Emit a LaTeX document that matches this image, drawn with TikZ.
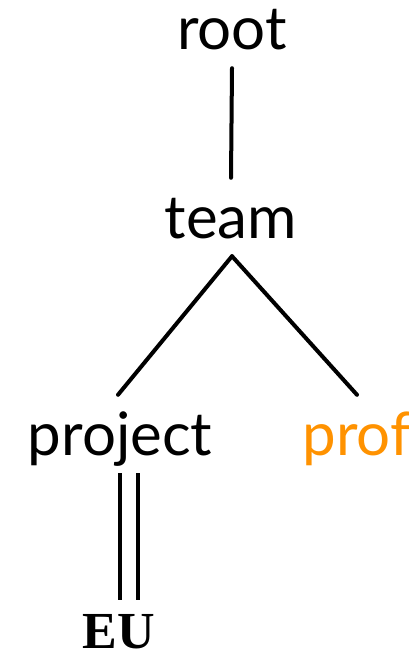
\documentclass[tikz,border=0pt]{standalone}
\usepackage{fontspec}
\setmainfont{Lato}
\newfontfamily\eufont{Liberation Serif}
\definecolor{proforange}{HTML}{FF9200}
\begin{document}
\begin{tikzpicture}[x=1pt,y=-1pt,
  lbl/.style={anchor=base,inner sep=0pt,font=\fontsize{60}{62}\selectfont,
    text height=60pt,text depth=18pt},
  edge/.style={line width=4pt,line cap=round}]
\useasboundingbox (0,0) rectangle (408,650);
\node[lbl] (root) at (232,50) {root};
\node[lbl] (team) at (231,238) {team};
\node[lbl] (project) at (120,455) {project};
\node[lbl,text=proforange] (prof) at (357,455) {prof};
\node[anchor=base,inner sep=0pt,font=\eufont\bfseries\fontsize{52}{54}\selectfont,
  text height=48pt,text depth=0pt] (eu) at (119,648) {EU};
\draw[edge] (root.south) -- (team.north);
\draw[edge] ([xshift=1pt]team.south) -- ([xshift=-2pt]project.north);
\draw[edge] ([xshift=1pt]team.south) -- (prof.north);
\draw[line width=4pt,double,double distance=14pt]
  ([xshift=9pt]project.south) -- ([xshift=9pt]project.south |- eu.north);
\end{tikzpicture}
\end{document}
